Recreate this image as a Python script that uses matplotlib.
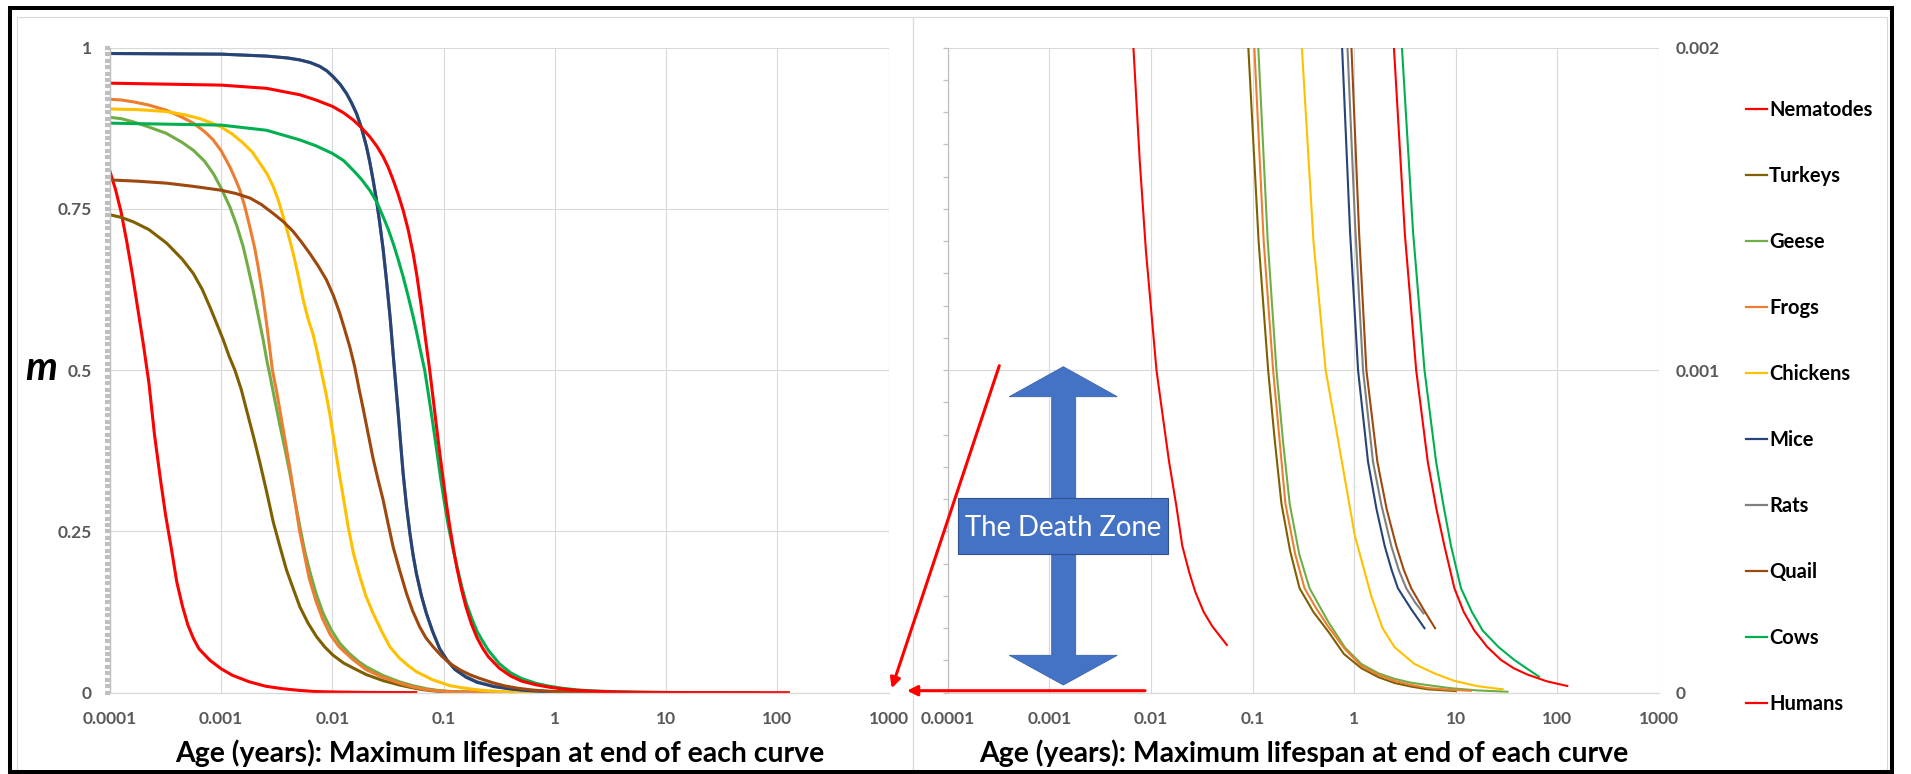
import numpy as np
import matplotlib
matplotlib.use("Agg")
import matplotlib.pyplot as plt
from matplotlib.lines import Line2D
from matplotlib.patches import Polygon, Rectangle, FancyArrowPatch
from matplotlib.ticker import FixedLocator, FixedFormatter, MultipleLocator

plt.rcParams['font.family'] = ['Lato', 'DejaVu Sans']

W, H = 1911, 774

# legend order
species = ["Nematodes", "Turkeys", "Geese", "Frogs", "Chickens",
           "Mice", "Rats", "Quail", "Cows", "Humans"]
colors = ["#FF0000", "#7F6000", "#70AD47", "#ED7D31", "#FFC000",
          "#264478", "#7F7F7F", "#9E480E", "#00B050", "#FF0000"]

# age as log10(years), m (the right panel gives the tails)
nematodes_lx = [-4.0, -3.95, -3.90, -3.85, -3.80, -3.75, -3.70, -3.65, -3.60, -3.55, -3.50, -3.45, -3.40,
                -3.35, -3.30, -3.25, -3.20, -3.10, -3.00, -2.90, -2.75, -2.60, -2.45, -2.30, -2.172, -2.11,
                -2.049, -1.945, -1.88, -1.821, -1.75, -1.691, -1.62, -1.561, -1.48, -1.398, -1.32, -1.252]
nematodes_m = [0.808, 0.78, 0.745, 0.70, 0.65, 0.595, 0.54, 0.48, 0.40, 0.335, 0.275, 0.225, 0.172,
               0.135, 0.105, 0.084, 0.068, 0.050, 0.037, 0.027, 0.017, 0.010, 0.0062, 0.0036, 0.002, 0.00165,
               0.00137, 0.001, 0.00085, 0.000716, 0.00058, 0.000455, 0.00037, 0.000311, 0.00025, 0.000207, 0.000175, 0.000148]

turkeys_lx = [-4.0, -3.90, -3.79, -3.65, -3.491, -3.35, -3.251, -3.17, -3.102, -3.04, -2.982, -2.93, -2.877,
              -2.82, -2.772, -2.71, -2.653, -2.59, -2.533, -2.47, -2.413, -2.35, -2.293, -2.22, -2.144, -2.07,
              -1.994, -1.90, -1.80, -1.695, -1.55, -1.40, -1.30, -1.20, -1.12, -1.041, -0.94, -0.846, -0.78,
              -0.715, -0.63, -0.537, -0.40, -0.255, -0.10, 0.072, 0.24, 0.399, 0.56, 0.725, 1.0]
turkeys_m = [0.741, 0.737, 0.730, 0.718, 0.697, 0.672, 0.650, 0.625, 0.598, 0.572, 0.547, 0.522, 0.50,
             0.470, 0.438, 0.397, 0.357, 0.31, 0.265, 0.225, 0.190, 0.160, 0.133, 0.108, 0.087, 0.071,
             0.058, 0.046, 0.037, 0.028, 0.019, 0.012, 0.0083, 0.005, 0.0033, 0.002, 0.0014, 0.001, 0.00078,
             0.000586, 0.00044, 0.000324, 0.00025, 0.00019, 0.00012, 0.0000758, 0.000048, 0.00003, 0.000019, 0.0000105, 0.000005]

geese_lx = [-4.0, -3.90, -3.79, -3.65, -3.491, -3.35, -3.251, -3.15, -3.072, -3.00, -2.922, -2.86, -2.802,
            -2.76, -2.713, -2.67, -2.623, -2.59, -2.56, -2.52, -2.473, -2.43, -2.383, -2.34, -2.293, -2.25,
            -2.204, -2.15, -2.084, -2.01, -1.934, -1.85, -1.77, -1.695, -1.55, -1.40, -1.28, -1.15, -1.05,
            -0.943, -0.85, -0.764, -0.70, -0.634, -0.54, -0.439, -0.255, -0.09, 0.072, 0.24, 0.399, 0.56,
            0.725, 0.95, 1.216, 1.51]
geese_m = [0.892, 0.890, 0.885, 0.877, 0.867, 0.853, 0.841, 0.824, 0.805, 0.782, 0.753, 0.724, 0.691,
           0.660, 0.624, 0.587, 0.547, 0.515, 0.490, 0.455, 0.415, 0.380, 0.340, 0.300, 0.257, 0.220,
           0.188, 0.155, 0.123, 0.097, 0.0765, 0.061, 0.049, 0.040, 0.027, 0.017, 0.011, 0.006, 0.0035,
           0.002, 0.0014, 0.001, 0.00078, 0.000586, 0.00043, 0.000324, 0.00022, 0.00014, 0.0000889, 0.00006, 0.000043, 0.000031,
           0.0000235, 0.000014, 0.000007, 0.000003]

frogs_lx = [-4.0, -3.90, -3.79, -3.65, -3.491, -3.35, -3.251, -3.15, -3.072, -3.00, -2.922, -2.87, -2.832,
            -2.79, -2.743, -2.70, -2.668, -2.63, -2.593, -2.565, -2.54, -2.50, -2.47, -2.42, -2.38, -2.34,
            -2.295, -2.25, -2.21, -2.15, -2.09, -2.02, -1.94, -1.82, -1.70, -1.55, -1.40, -1.29, -1.18, -1.08,
            -0.982, -0.89, -0.797, -0.676, -0.58, -0.488, -0.37, -0.255, -0.09, 0.072, 0.24, 0.399, 0.56,
            0.725, 0.95, 1.15]
frogs_m = [0.920, 0.919, 0.916, 0.911, 0.903, 0.892, 0.883, 0.870, 0.857, 0.840, 0.815, 0.795, 0.779,
           0.755, 0.722, 0.690, 0.660, 0.620, 0.573, 0.535, 0.50, 0.465, 0.435, 0.385, 0.345, 0.30,
           0.25, 0.212, 0.178, 0.143, 0.115, 0.090, 0.071, 0.052, 0.036, 0.024, 0.015, 0.0095, 0.0055, 0.0033,
           0.002, 0.0014, 0.001, 0.000586, 0.00043, 0.000324, 0.00026, 0.000205, 0.000135, 0.0000824, 0.000055, 0.0000366, 0.000024,
           0.0000144, 0.000009, 0.000006]

chickens_lx = [-4.0, -3.75, -3.491, -3.33, -3.192, -3.10, -3.0, -2.90, -2.802, -2.72, -2.653, -2.59, -2.533,
               -2.49, -2.443, -2.40, -2.353, -2.31, -2.263, -2.22, -2.174, -2.14, -2.099, -2.06, -2.024, -1.99,
               -1.949, -1.90, -1.859, -1.81, -1.754, -1.70, -1.635, -1.56, -1.485, -1.40, -1.32, -1.246, -1.10,
               -0.946, -0.83, -0.72, -0.62, -0.514, -0.40, -0.28, -0.157, 0.0065, 0.170, 0.28, 0.399, 0.595,
               0.79, 0.987, 1.22, 1.461]
chickens_m = [0.905, 0.904, 0.901, 0.896, 0.890, 0.884, 0.877, 0.866, 0.852, 0.838, 0.821, 0.805, 0.785,
              0.765, 0.738, 0.712, 0.681, 0.648, 0.609, 0.580, 0.555, 0.53, 0.497, 0.465, 0.432, 0.395,
              0.350, 0.300, 0.257, 0.215, 0.180, 0.150, 0.123, 0.096, 0.0713, 0.054, 0.042, 0.0326, 0.020,
              0.011, 0.0075, 0.0049, 0.0032, 0.002, 0.0014, 0.001, 0.000782, 0.000488, 0.000298, 0.0002, 0.000141, 0.0000889,
              0.00006, 0.0000366, 0.00002, 0.0000105]

mice_lx = [-4.0, -3.0, -2.593, -2.40, -2.293, -2.20, -2.114, -2.05, -1.994, -1.93, -1.874, -1.83, -1.784,
           -1.74, -1.695, -1.665, -1.635, -1.605, -1.575, -1.545, -1.515, -1.48, -1.45, -1.43, -1.41, -1.39,
           -1.365, -1.335, -1.305, -1.275, -1.246, -1.20, -1.156, -1.10, -1.036, -0.97, -0.90, -0.80, -0.70,
           -0.55, -0.40, -0.26, -0.118, -0.04, 0.039, 0.137, 0.22, 0.301, 0.37, 0.431, 0.56, 0.693]
mice_m = [0.991, 0.990, 0.987, 0.984, 0.981, 0.977, 0.971, 0.964, 0.955, 0.943, 0.929, 0.915, 0.898,
          0.876, 0.847, 0.823, 0.795, 0.764, 0.728, 0.688, 0.640, 0.578, 0.515, 0.475, 0.435, 0.392,
          0.340, 0.290, 0.248, 0.213, 0.185, 0.150, 0.123, 0.095, 0.068, 0.050, 0.036, 0.024, 0.016,
          0.0095, 0.0058, 0.0034, 0.002, 0.00143, 0.001, 0.000716, 0.00057, 0.000455, 0.00038, 0.000324, 0.00026, 0.0002]

rats_lx = [-4.0, -3.0, -2.593, -2.40, -2.293, -2.20, -2.114, -2.05, -1.994, -1.93, -1.874, -1.83, -1.784,
           -1.74, -1.695, -1.665, -1.635, -1.605, -1.575, -1.545, -1.515, -1.48, -1.45, -1.43, -1.41, -1.39,
           -1.365, -1.335, -1.305, -1.275, -1.246, -1.20, -1.156, -1.10, -1.036, -0.97, -0.90, -0.80, -0.70,
           -0.55, -0.40, -0.23, -0.065, 0.01, 0.088, 0.186, 0.27, 0.366, 0.44, 0.513, 0.60, 0.683]
rats_m = [0.991, 0.990, 0.987, 0.984, 0.981, 0.977, 0.971, 0.964, 0.955, 0.943, 0.929, 0.915, 0.898,
          0.876, 0.847, 0.823, 0.795, 0.764, 0.728, 0.688, 0.640, 0.578, 0.515, 0.475, 0.435, 0.392,
          0.340, 0.290, 0.248, 0.213, 0.185, 0.150, 0.123, 0.095, 0.068, 0.051, 0.037, 0.025, 0.017,
          0.010, 0.0062, 0.0035, 0.002, 0.00145, 0.001, 0.000716, 0.00058, 0.000455, 0.00038, 0.000324, 0.00028, 0.000246]

quail_lx = [-4.0, -3.75, -3.491, -3.25, -3.0, -2.87, -2.743, -2.64, -2.533, -2.44, -2.353, -2.28, -2.204,
            -2.13, -2.054, -1.99, -1.934, -1.89, -1.844, -1.80, -1.76, -1.725, -1.68, -1.635, -1.59, -1.545,
            -1.50, -1.455, -1.40, -1.335, -1.28, -1.216, -1.16, -1.096, -1.02, -0.946, -0.85, -0.76, -0.677,
            -0.56, -0.45, -0.33, -0.22, -0.12, -0.026, 0.05, 0.121, 0.229, 0.32, 0.415, 0.49, 0.562, 0.68, 0.797]
quail_m = [0.795, 0.793, 0.790, 0.785, 0.779, 0.774, 0.767, 0.757, 0.743, 0.730, 0.715, 0.699, 0.681,
           0.662, 0.640, 0.615, 0.588, 0.563, 0.536, 0.505, 0.470, 0.441, 0.402, 0.363, 0.330, 0.299,
           0.262, 0.226, 0.192, 0.154, 0.127, 0.102, 0.085, 0.0713, 0.057, 0.0455, 0.035, 0.0275, 0.0222,
           0.0155, 0.0105, 0.0068, 0.0045, 0.003, 0.002, 0.00142, 0.001, 0.000716, 0.00057, 0.000455, 0.00038, 0.000324, 0.00026, 0.0002]

cows_lx = [-4.0, -3.0, -2.593, -2.293, -2.15, -2.0, -1.90, -1.814, -1.74, -1.665, -1.60, -1.545, -1.50,
           -1.455, -1.41, -1.365, -1.32, -1.275, -1.245, -1.216, -1.19, -1.171, -1.135, -1.10, -1.065, -1.03,
           -0.995, -0.96, -0.92, -0.88, -0.84, -0.80, -0.75, -0.70, -0.65, -0.60, -0.50, -0.40, -0.30, -0.17,
           -0.05, 0.07, 0.2, 0.33, 0.471, 0.58, 0.693, 0.807, 0.88, 0.954, 1.052, 1.16, 1.265, 1.42, 1.575,
           1.70, 1.820]
cows_m = [0.883, 0.880, 0.872, 0.857, 0.848, 0.836, 0.825, 0.810, 0.796, 0.779, 0.760, 0.738, 0.719,
          0.697, 0.672, 0.645, 0.615, 0.583, 0.560, 0.536, 0.515, 0.50, 0.46, 0.42, 0.378, 0.335,
          0.296, 0.260, 0.226, 0.195, 0.166, 0.140, 0.116, 0.095, 0.080, 0.066, 0.045, 0.031, 0.022, 0.0145,
          0.010, 0.0068, 0.0043, 0.0029, 0.002, 0.00143, 0.001, 0.000716, 0.00058, 0.000455, 0.000324, 0.00025, 0.000193, 0.000142, 0.000102,
          0.000075, 0.0000497]

humans_lx = [-4.0, -3.0, -2.593, -2.293, -2.15, -2.0, -1.90, -1.814, -1.74, -1.665, -1.60, -1.545, -1.50,
             -1.455, -1.41, -1.365, -1.32, -1.275, -1.24, -1.201, -1.165, -1.126, -1.096, -1.066, -1.036, -1.006,
             -0.976, -0.946, -0.91, -0.88, -0.84, -0.80, -0.75, -0.70, -0.65, -0.60, -0.50, -0.40, -0.30, -0.17,
             -0.05, 0.07, 0.2, 0.30, 0.392, 0.50, 0.611, 0.725, 0.81, 0.889, 0.987, 1.08, 1.183, 1.31, 1.444,
             1.57, 1.706, 1.90, 2.098]
humans_m = [0.945, 0.942, 0.937, 0.927, 0.919, 0.909, 0.899, 0.888, 0.876, 0.862, 0.847, 0.831, 0.815,
            0.795, 0.773, 0.748, 0.718, 0.681, 0.645, 0.598, 0.550, 0.50, 0.457, 0.414, 0.372, 0.332,
            0.293, 0.258, 0.220, 0.192, 0.160, 0.133, 0.106, 0.085, 0.069, 0.056, 0.038, 0.026, 0.018, 0.0122,
            0.0085, 0.0058, 0.0037, 0.0027, 0.002, 0.00142, 0.001, 0.000716, 0.00057, 0.000455, 0.000324, 0.00025, 0.000193, 0.000142, 0.000102,
            0.000076, 0.0000562, 0.000035, 0.0000209]

series = {
    "Nematodes": (nematodes_lx, nematodes_m),
    "Turkeys": (turkeys_lx, turkeys_m),
    "Geese": (geese_lx, geese_m),
    "Frogs": (frogs_lx, frogs_m),
    "Chickens": (chickens_lx, chickens_m),
    "Mice": (mice_lx, mice_m),
    "Rats": (rats_lx, rats_m),
    "Quail": (quail_lx, quail_m),
    "Cows": (cows_lx, cows_m),
    "Humans": (humans_lx, humans_m),
}
draw_order = ["Nematodes", "Turkeys", "Geese", "Frogs", "Chickens",
              "Rats", "Mice", "Quail", "Cows", "Humans"]

decades = [1e-4, 1e-3, 1e-2, 1e-1, 1, 10, 100, 1000]
decade_labels = ["0.0001", "0.001", "0.01", "0.1", "1", "10", "100", "1000"]
left_yticks = [0, 0.25, 0.5, 0.75, 1]
left_ylabels = ["0", "0.25", "0.5", "0.75", "1"]
right_yticks = [0, 0.001, 0.002]
right_ylabels = ["0", "0.001", "0.002"]
xlabel = "Age (years): Maximum lifespan at end of each curve"

GRID = "#D9D9D9"
TICKC = "#595959"


def fp(x, y):
    # pixel position (from top-left) -> figure fraction
    return (x / W, 1 - y / H)


fig = plt.figure(figsize=(W / 100, H / 100), dpi=100)

# chart area frames
fig.add_artist(Rectangle(fp(17, 772), (913 - 17) / W, (772 - 17) / H, transform=fig.transFigure,
                         fill=False, ec=GRID, lw=0.8))
fig.add_artist(Rectangle(fp(913, 772), (1887 - 913) / W, (772 - 17) / H, transform=fig.transFigure,
                         fill=False, ec=GRID, lw=0.8))

ax1 = fig.add_axes([110 / W, 1 - 692.7 / H, (888.7 - 110) / W, 645 / H])
ax2 = fig.add_axes([947.7 / W, 1 - 692.7 / H, (1658.9 - 947.7) / W, 645 / H])

for name in draw_order:
    lx, m = series[name]
    c = colors[species.index(name)]
    age = 10 ** np.array(lx)
    ax1.plot(age, m, color=c, lw=2.2, solid_joinstyle='round')
    ax2.plot(age, m, color=c, lw=1.5, solid_joinstyle='round')

for ax in (ax1, ax2):
    ax.set_xscale('log')
    ax.set_xlim(1e-4, 1e3)
    ax.xaxis.set_major_locator(FixedLocator(decades))
    ax.xaxis.set_major_formatter(FixedFormatter(decade_labels))
    ax.xaxis.set_minor_locator(FixedLocator([]))
    ax.grid(True, which='major', color=GRID, lw=0.8)
    ax.set_axisbelow(True)
    for s in ('top', 'right'):
        ax.spines[s].set_visible(False)
    ax.spines['bottom'].set_color(GRID)
    ax.spines['bottom'].set_linewidth(0.9)
    ax.tick_params(axis='x', length=0, pad=13.5, labelsize=12.5, labelcolor=TICKC)
    for lab in ax.get_xticklabels():
        lab.set_fontweight('bold')

# left panel y axis
ax1.set_ylim(0, 1)
ax1.yaxis.set_major_locator(FixedLocator(left_yticks))
ax1.yaxis.set_major_formatter(FixedFormatter(left_ylabels))
ax1.yaxis.set_minor_locator(MultipleLocator(0.01))
ax1.spines['left'].set_color('#BFBFBF')
ax1.spines['left'].set_linewidth(1.0)
ax1.tick_params(axis='y', which='major', length=3.6, width=3.0, color='#BFBFBF', pad=9.5,
                labelsize=12.5, labelcolor=TICKC)
ax1.tick_params(axis='y', which='minor', length=3.6, width=3.0, color='#BFBFBF')
for lab in ax1.get_yticklabels():
    lab.set_fontweight('bold')

# right panel y axis: marks on the left, labels on the right
ax2.set_ylim(0, 0.002)
ax2.yaxis.set_major_locator(FixedLocator(right_yticks))
ax2.yaxis.set_major_formatter(FixedFormatter(right_ylabels))
ax2.yaxis.set_minor_locator(MultipleLocator(0.0001))
ax2.spines['left'].set_color('#BFBFBF')
ax2.spines['left'].set_linewidth(0.9)
ax2.tick_params(axis='y', which='both', length=3.6, width=0.9, color='#BFBFBF',
                left=True, right=False, labelleft=False, labelright=True)
ax2.tick_params(axis='y', which='major', pad=8.6, labelsize=12.5, labelcolor=TICKC)
for lab in ax2.get_yticklabels():
    lab.set_fontweight('bold')

# axis titles
fig.text(*fp(499.4, 762), xlabel, ha='center', va='baseline', fontsize=20.4, fontweight='bold')
fig.text(*fp(1303.3, 762), xlabel, ha='center', va='baseline', fontsize=20.4, fontweight='bold')
fig.text(*fp(25, 380), "m", ha='left', va='baseline', fontsize=29, fontweight='bold', style='italic')

# legend
handles = [Line2D([], [], color=c, lw=1.6) for c in colors]
fig.legend(handles, species, loc='upper left', bbox_to_anchor=fp(1746, 100), frameon=False,
           prop={'family': 'Lato', 'weight': 'bold', 'size': 14.5},
           handlelength=1.02, handletextpad=0.12, labelspacing=2.285,
           borderpad=0, borderaxespad=0)

# "The Death Zone" double arrow
BLUE = "#4472C4"
arrow_px = [(1063.3, 366.7), (1117.3, 396.7), (1075.7, 396.7), (1075.7, 655.3), (1117.3, 655.3),
            (1063.3, 685.0), (1009.3, 655.3), (1051.7, 655.3), (1051.7, 396.7), (1009.3, 396.7)]
fig.add_artist(Polygon([fp(x, y) for x, y in arrow_px], closed=True, transform=fig.transFigure,
                       fc=BLUE, ec='#3A64B0', lw=0.6))
fig.add_artist(Rectangle(fp(958.3, 554), (1168.3 - 958.3) / W, (554 - 498.3) / H,
                         transform=fig.transFigure, fc=BLUE, ec='#2F528F', lw=0.8))
fig.text(*fp(1063.3, 536.5), "The Death Zone", ha='center', va='baseline', color='white', fontsize=19.8)

# red pointer arrows
for a, b in [((999.3, 365.7), (891.7, 688.3)), ((1145, 690.7), (907, 690.7))]:
    fig.add_artist(FancyArrowPatch(fp(*a), fp(*b), transform=fig.transFigure,
                                   arrowstyle='-|>,head_length=6,head_width=3', mutation_scale=1,
                                   color='#FF0000', lw=2.2, shrinkA=0, shrinkB=0))

# outer black frame
fig.add_artist(Rectangle(fp(10, 772), (1891.5 - 10) / W, (772 - 8) / H, transform=fig.transFigure,
                         fill=False, ec='black', lw=2.9))

fig.savefig("out.png", dpi=100)
